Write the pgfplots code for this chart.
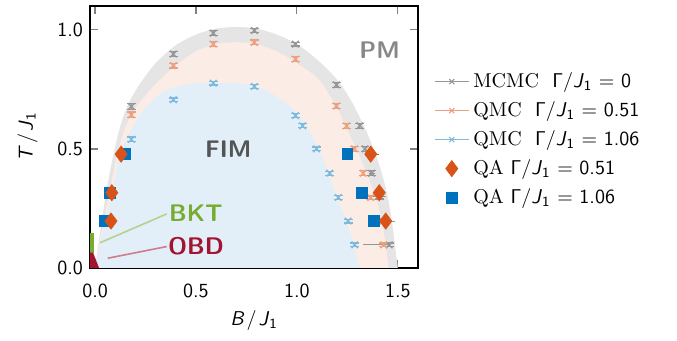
\documentclass[border=0pt]{standalone}
\usepackage{pgfplots}
\pgfplotsset{compat=1.18}
\usepackage{pgfplotstable}
\definecolor{mcmc}{RGB}{150,150,150}
\definecolor{qmcA}{RGB}{236,160,128}
\definecolor{qmcB}{RGB}{128,185,222}
\definecolor{qaA}{HTML}{D95319}
\definecolor{qaB}{HTML}{0072BD}
\definecolor{fillG}{RGB}{229,229,229}
\definecolor{fillP}{RGB}{251,236,230}
\definecolor{fillB}{RGB}{227,239,248}
\definecolor{bkt}{HTML}{77AC30}
\definecolor{obd}{HTML}{A2142F}
\newcommand{\Jone}{\textit{J}$_{\mathsf{1}}$}
\newcommand{\Gam}{$\mathsf{\Gamma}$}

\pgfplotstableread{
x y ey
0.180 0.678 0.012
0.388 0.898 0.010
0.586 0.986 0.010
0.789 0.997 0.008
0.993 0.940 0.008
1.196 0.769 0.010
1.312 0.597 0.010
1.337 0.500 0.010
1.370 0.398 0.010
1.410 0.300 0.010
1.420 0.197 0.010
1.457 0.097 0.008
}\mcmcdata

\pgfplotstableread{
x y ey
0.180 0.643 0.012
0.388 0.850 0.010
0.586 0.940 0.010
0.789 0.947 0.010
0.993 0.877 0.010
1.196 0.680 0.012
1.246 0.597 0.010
1.285 0.500 0.010
1.328 0.398 0.010
1.365 0.296 0.010
1.400 0.197 0.010
1.430 0.097 0.008
}\qmcAdata

\pgfplotstableread{
x y ey
0.180 0.540 0.010
0.388 0.706 0.008
0.586 0.776 0.008
0.789 0.762 0.008
0.993 0.640 0.008
1.028 0.597 0.008
1.097 0.500 0.008
1.163 0.398 0.008
1.205 0.296 0.008
1.254 0.197 0.008
1.287 0.097 0.008
}\qmcBdata

\pgfplotstableread{
x y ep em
1.457 0.097 0.005 0.130
1.410 0.300 0.030 0.100
1.420 0.197 0.065 0.065
1.370 0.398 0.015 0.015
}\mcmcxerr

\pgfplotstableread{
x y
0.129 0.478
0.083 0.316
0.079 0.197
1.366 0.478
1.408 0.316
1.440 0.197
}\qaAdata

\pgfplotstableread{
x y
0.149 0.478
0.074 0.316
0.046 0.197
1.250 0.478
1.323 0.316
1.381 0.197
}\qaBdata

\begin{document}
\begin{tikzpicture}
\begin{axis}[
  name=ax,
  scale only axis,
  width=164pt, height=131pt,
  xmin=-0.025, xmax=1.6, ymin=0, ymax=1.1,
  xtick={0,0.5,1,1.5}, ytick={0,0.5,1},
  tick align=inside,
  major tick length=4pt,
  every tick/.style={gray, line width=0.6pt},
  axis line style={black, line width=1.3pt},
  ticklabel style={font=\sffamily},
  /pgf/number format/assume math mode=true,
  /pgf/number format/.cd, fixed, fixed zerofill, precision=1, /pgfplots/.cd,
  xticklabel style={yshift=-4.5pt},
  xlabel={\textsf{\textit{B}\kern1pt/\kern1pt\Jone}},
  ylabel={\textsf{\textit{T}\kern1pt/\kern1pt\Jone}},
  xlabel style={at={(axis description cs:0.5,-0.2)}, anchor=center},
  ylabel style={at={(axis description cs:-0.19,0.5)}, anchor=center},
  legend style={at={(1.03,0.49)}, anchor=west, draw=none, fill=none, font=\normalsize, row sep=1.5pt},
  legend cell align=left,
  clip=true,
]
% phase regions
\addplot[forget plot, draw=none, fill=fillG, smooth] coordinates {
(0.00,0.00) (0.02,0.12) (0.05,0.29) (0.08,0.43) (0.12,0.58) (0.16,0.68)
(0.22,0.77) (0.30,0.86) (0.40,0.935) (0.50,0.98) (0.60,1.005) (0.70,1.012)
(0.80,1.005) (0.90,0.98) (1.00,0.94) (1.10,0.875) (1.20,0.79) (1.27,0.70)
(1.33,0.60) (1.38,0.50) (1.42,0.40) (1.45,0.30) (1.47,0.20) (1.485,0.10) (1.50,0.00)
} \closedcycle;
\addplot[forget plot, draw=none, fill=fillP, smooth] coordinates {
(0.00,0.00) (0.03,0.14) (0.06,0.27) (0.08,0.35) (0.11,0.48) (0.15,0.59)
(0.20,0.67) (0.26,0.735) (0.32,0.79) (0.40,0.85) (0.50,0.91) (0.60,0.94)
(0.70,0.948) (0.80,0.94) (0.90,0.91) (1.00,0.86) (1.11,0.79) (1.20,0.67)
(1.25,0.58) (1.30,0.49) (1.35,0.39) (1.39,0.30) (1.42,0.20) (1.44,0.10) (1.455,0.00)
} \closedcycle;
\addplot[forget plot, draw=none, fill=fillB, smooth] coordinates {
(0.00,0.00) (0.03,0.12) (0.06,0.23) (0.09,0.33) (0.12,0.47) (0.17,0.565)
(0.22,0.64) (0.28,0.70) (0.34,0.74) (0.45,0.77) (0.55,0.777) (0.65,0.777)
(0.75,0.77) (0.85,0.745) (0.95,0.69) (1.00,0.65) (1.05,0.59) (1.11,0.50)
(1.155,0.40) (1.20,0.29) (1.245,0.197) (1.28,0.10) (1.31,0.00)
} \closedcycle;
% BKT and OBD
\addplot[forget plot, draw=none, fill=bkt] coordinates {(-0.025,0.063) (-0.025,0.145) (-0.005,0.145) (-0.005,0.063)} -- cycle;
\addplot[forget plot, draw=none, fill=obd] coordinates {(-0.025,0) (-0.025,0.065) (-0.01,0.065) (0.02,0)} -- cycle;
\draw[bkt!55, line width=0.8pt] (axis cs:0.025,0.106) -- (axis cs:0.355,0.227);
\draw[obd!55, line width=0.8pt] (axis cs:0.063,0.041) -- (axis cs:0.355,0.09);
\node[font=\sffamily\bfseries\large, text=bkt] at (axis cs:0.50,0.23) {BKT};
\node[font=\sffamily\bfseries\large, text=obd] at (axis cs:0.50,0.09) {OBD};
\node[font=\sffamily\bfseries\large, text={rgb,255:red,85;green,85;blue,85}] at (axis cs:0.66,0.5) {FIM};
\node[font=\sffamily\bfseries\large, text={rgb,255:red,136;green,136;blue,136}] at (axis cs:1.41,0.915) {PM};
% horizontal error bars
\addplot[forget plot, only marks, mark=*, mark size=0pt, color=mcmc, line width=0.6pt,
  error bars/.cd, x dir=both, x explicit, error mark=none]
  table[x=x, y=y, x error plus=ep, x error minus=em] {\mcmcxerr};
\addplot[forget plot, only marks, mark=*, mark size=0pt, color=qaA, line width=0.6pt,
  error bars/.cd, x dir=plus, x explicit, error mark=none]
  coordinates {(1.366,0.478) +- (0.04,0)};
% data
\addplot[forget plot, only marks, mark=x, mark size=2.3pt, color=mcmc, line width=0.7pt,
  error bars/.cd, y dir=both, y explicit,
  error mark options={rotate=90, mark size=2.2pt, line width=0.6pt}]
  table[x=x, y=y, y error=ey] {\mcmcdata};
\addplot[forget plot, only marks, mark=x, mark size=2.3pt, color=qmcA, line width=0.7pt,
  error bars/.cd, y dir=both, y explicit,
  error mark options={rotate=90, mark size=2.2pt, line width=0.6pt}]
  table[x=x, y=y, y error=ey] {\qmcAdata};
\addplot[forget plot, only marks, mark=x, mark size=2.3pt, color=qmcB, line width=0.7pt,
  error bars/.cd, y dir=both, y explicit,
  error mark options={rotate=90, mark size=2.2pt, line width=0.6pt}]
  table[x=x, y=y, y error=ey] {\qmcBdata};
\addplot[forget plot, only marks, mark=square*, mark size=2.7pt, color=qaB] table[x=x, y=y] {\qaBdata};
\addplot[forget plot, only marks, mark=diamond*, mark size=4pt, color=qaA] table[x=x, y=y] {\qaAdata};
\addlegendimage{color=mcmc, line width=0.5pt, mark=x, mark size=1.8pt}
\addlegendentry{MCMC\ \ \textsf{\Gam/\Jone\ = 0}}
\addlegendimage{color=qmcA, line width=0.5pt, mark=x, mark size=1.8pt}
\addlegendentry{QMC\ \ \textsf{\Gam/\Jone\ = 0.51}}
\addlegendimage{color=qmcB, line width=0.5pt, mark=x, mark size=1.8pt}
\addlegendentry{QMC\ \ \textsf{\Gam/\Jone\ = 1.06}}
\addlegendimage{only marks, mark=diamond*, mark size=4pt, color=qaA}
\addlegendentry{QA\ \textsf{\Gam/\Jone\ = 0.51}}
\addlegendimage{only marks, mark=square*, mark size=2.7pt, color=qaB}
\addlegendentry{QA\ \textsf{\Gam/\Jone\ = 1.06}}
\end{axis}
\pgfresetboundingbox
\path ([shift={(-45pt,-36.5pt)}]ax.south west) rectangle ([shift={(129.5pt,3pt)}]ax.north east);
\end{tikzpicture}
\end{document}
